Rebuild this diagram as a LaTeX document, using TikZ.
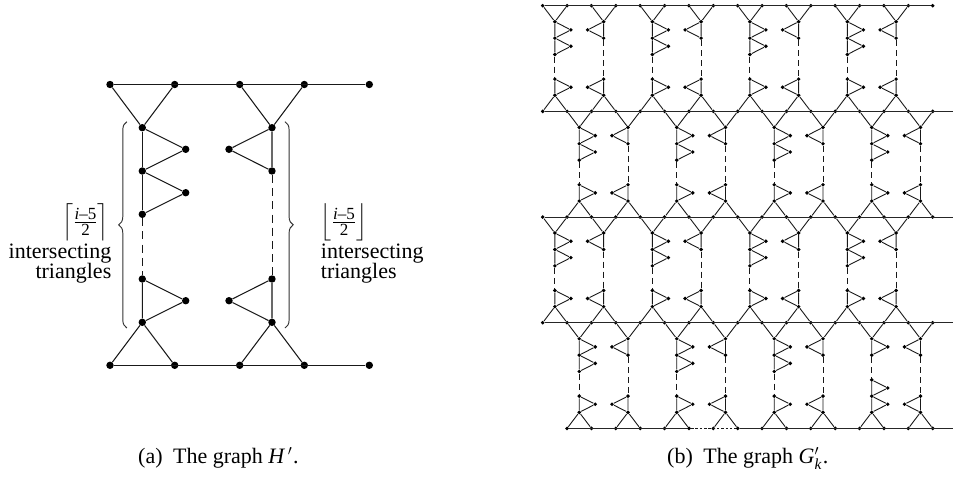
\documentclass[tikz,border=0pt]{standalone}
\usepackage{amsmath}
\usepackage{fontspec}
\setmainfont{Liberation Serif}
\usetikzlibrary{decorations.pathreplacing}
\tikzset{
  x=1pt,y=-1pt,
  bigdot/.style={circle,fill=black,draw=none,inner sep=0pt,minimum size=7.4pt},
  smalldot/.style={circle,fill=black,draw=none,inner sep=0pt,minimum size=3.9pt},
  bigedge/.style={line width=1.05pt,black!90},
  bigdash/.style={line width=0.95pt,black!90,dash pattern=on 8pt off 5.2pt},
  smalledge/.style={line width=0.9pt,black!90},
  smalldash/.style={line width=0.85pt,black!90,dash pattern=on 6pt off 4pt},
  rowedge/.style={line width=1.05pt,black!85},
  bracey/.style={line width=0.95pt,black!80,decorate,decoration={brace,amplitude=8.2pt,raise=0pt}},
  lab/.style={inner sep=0pt,font=\fontsize{22}{24}\selectfont},
  captext/.style={inner sep=0pt,font=\fontsize{22}{24}\selectfont,anchor=base west}
}
\newcommand\fracnum{\text{\fontsize{17}{17}\selectfont\textit{i}--5}}
\newcommand\fracden{\text{\fontsize{17}{17}\selectfont 2}}
% id, index of left base node, upper row, side, triangles on top, triangles at bottom
\newcommand\gadget[6]{%
  \pgfmathsetmacro\gx{542.7+24.375*#2+12.17}%
  \pgfmathsetmacro\gy{5.7+105.67*(#3-1)}%
  \pgfmathtruncatemacro\nexti{#2+1}%
  \pgfmathtruncatemacro\nextr{#3+1}%
  \node[smalldot] (#1t0) at (\gx,\gy+16) {};
  \node[smalldot] (#1b0) at (\gx,\gy+89.6) {};
  \draw[smalledge] (r#3n#2) -- (#1t0) -- (r#3n\nexti);
  \draw[smalledge] (r\nextr n#2) -- (#1b0) -- (r\nextr n\nexti);
  \foreach \k in {1,...,#5}{%
    \pgfmathtruncatemacro\km{\k-1}%
    \node[smalldot] (#1t\k) at (\gx,\gy+16+16.4*\k) {};
    \node[smalldot] (#1tt\k) at (\gx+16*#4,\gy+16+16.4*\k-8.2) {};
    \draw[smalledge] (#1t\km) -- (#1t\k) -- (#1tt\k) -- (#1t\km);
  }
  \foreach \k in {1,...,#6}{%
    \pgfmathtruncatemacro\km{\k-1}%
    \node[smalldot] (#1b\k) at (\gx,\gy+89.6-16.2*\k) {};
    \node[smalldot] (#1bt\k) at (\gx+16*#4,\gy+89.6-16.2*\k+8.1) {};
    \draw[smalledge] (#1b\km) -- (#1b\k) -- (#1bt\k) -- (#1b\km);
  }
  \draw[smalldash] (#1t#5) -- (#1b#6);
}
\begin{document}
\begin{tikzpicture}
\useasboundingbox (0,0) rectangle (954,477);
% ---------- left graph
\foreach \n/\x in {a/110,b/174.7,c/239.7,d/304.3,e/369.3}{
  \node[bigdot] (t\n) at (\x,84.5) {};
  \node[bigdot] (u\n) at (\x,365.3) {};
}
\foreach \n/\x in {l/142.3,r/272}{
  \node[bigdot] (\n0) at (\x,127.7) {};
  \node[bigdot] (\n1) at (\x,171) {};
  \node[bigdot] (\n3) at (\x,279) {};
  \node[bigdot] (\n4) at (\x,322.3) {};
}
\node[bigdot] (l2) at (142.3,214.3) {};
\node[bigdot] (lp) at (185.7,149.3) {};
\node[bigdot] (lq) at (185.7,192.7) {};
\node[bigdot] (ls) at (185.7,300.7) {};
\node[bigdot] (rp) at (229,149.3) {};
\node[bigdot] (rs) at (229,300.7) {};
\draw[bigedge] (ta) -- (te);
\draw[bigedge] (ua) -- (ue);
\draw[bigedge] (ta) -- (l0) -- (tb);
\draw[bigedge] (tc) -- (r0) -- (td);
\draw[bigedge] (ua) -- (l4) -- (ub);
\draw[bigedge] (uc) -- (r4) -- (ud);
\draw[bigedge] (l0) -- (l1) -- (l2);
\draw[bigedge] (l0) -- (lp) -- (l1) -- (lq) -- (l2);
\draw[bigedge] (l3) -- (ls) -- (l4) -- (l3);
\draw[bigedge] (r0) -- (r1) -- (rp) -- (r0);
\draw[bigedge] (r3) -- (r4) -- (rs) -- (r3);
\draw[bigdash] (l2) -- (l3);
\draw[bigdash] (r1) -- (r3);
\coordinate (lba) at (126.9,328);
\coordinate (lbb) at (126.9,121.7);
\coordinate (rba) at (285,121.7);
\coordinate (rbb) at (285,328);
\draw[bracey] (lba) -- (lbb);
\draw[bracey] (rba) -- (rbb);
\node[lab] (lfrac) at (85.5,222.5) {$\left\lceil\frac{\fracnum}{\fracden}\right\rceil$};
\node[lab,anchor=base east] (ltexta) at (111.5,258) {intersecting};
\node[lab,anchor=base east] (ltextb) at (111.5,278) {triangles};
\node[lab] (rfrac) at (344,222.5) {$\left\lfloor\frac{\fracnum}{\fracden}\right\rfloor$};
\node[lab,anchor=base west] (rtexta) at (320.7,258) {intersecting};
\node[lab,anchor=base west] (rtextb) at (320.7,278) {triangles};
% ---------- right graph: rows
\foreach \r/\first in {1/0,2/0,3/0,4/0,5/1}{
  \pgfmathsetmacro\ry{5.7+105.67*(\r-1)}
  \foreach \i in {\first,...,16}{
    \node[smalldot] (r\r n\i) at (542.7+24.375*\i,\ry) {};
  }
  \coordinate (r\r end) at (953,\ry);
}
\draw[rowedge] (r1n0) -- (r1n16);
\draw[rowedge] (r2n0) -- (r2end);
\draw[rowedge] (r3n0) -- (r3end);
\draw[rowedge,line width=1.4pt] (r4n0) -- (r4end);
\draw[rowedge] (r5n1) -- (r5n6);
\draw[smalldash,dash pattern=on 2.5pt off 1.8pt] (r5n6) -- (r5n8);
\draw[rowedge] (r5n8) -- (r5end);
% ---------- right graph: gadgets
\foreach \r in {1,3}{
  \foreach \i/\s/\t in {0/1/2,2/-1/1,4/1/2,6/-1/1,8/1/2,10/-1/1,12/1/2,14/-1/1}{
    \gadget{g\r x\i}{\i}{\r}{\s}{\t}{1}
  }
}
\foreach \i/\s/\t in {1/1/2,3/-1/1,5/1/2,7/-1/1,9/1/2,11/-1/1,13/1/2,15/-1/1}{
  \gadget{g2x\i}{\i}{2}{\s}{\t}{1}
}
\foreach \i/\s/\t/\b in {1/1/2/1,3/-1/1/1,5/1/2/1,7/-1/1/1,9/1/2/1,11/-1/1/1,13/1/1/2,15/-1/1/1}{
  \gadget{g4x\i}{\i}{4}{\s}{\t}{\b}
}
% ---------- captions
\node[captext] (capa) at (138,463) {(a)\hspace{5pt} The graph $\mathit{H}\,'$\hspace{1pt}.};
\node[captext] (capb) at (667,463) {(b)\hspace{5pt} The graph $\mathit{G}'_{\mathit{k}}$\hspace{1pt}.};
\end{tikzpicture}
\end{document}
